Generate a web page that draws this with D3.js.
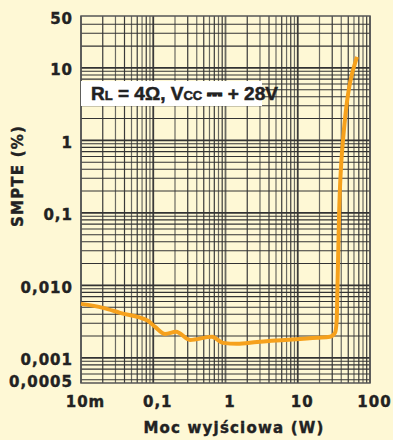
<!DOCTYPE html>
<html>
<head>
<meta charset="utf-8">
<script src="https://cdn.jsdelivr.net/npm/d3@7"></script>
<style>
  body { margin: 0; background: #fef8d5; }
  svg { display: block; }
</style>
</head>
<body>
<svg id="chart"></svg>
<script>
// data
var xTicks = [0.01, 0.1, 1, 10, 100];
var xTickLabels = ["10m", "0,1", "1", "10", "100"];
var yTicks = [50, 10, 1, 0.1, 0.01, 0.001, 0.0005];
var yTickLabels = ["50", "10", "1", "0,1", "0,010", "0,001", "0,0005"];

var power = [0.01, 0.0202, 0.0347, 0.0845, 0.106, 0.146, 0.207, 0.323, 0.65, 0.923, 1.44, 2.73, 18.5, 27.9, 32.8, 34.6, 35.4, 37.4, 42.3, 66];
var smpte = [0.00556, 0.0049, 0.00418, 0.00324, 0.00268, 0.00214, 0.00229, 0.00177, 0.00195, 0.00161, 0.00156, 0.00166, 0.00189, 0.00195, 0.00222, 0.0033, 0.0087, 0.1, 1.0, 14.2];

var width = 393, height = 440;
var margin = {top: 16, right: 23, bottom: 57, left: 81};

var svg = d3.select("#chart")
    .attr("width", width)
    .attr("height", height);

svg.append("rect")
    .attr("width", width)
    .attr("height", height)
    .attr("fill", "#fef8d5");

var xScale = d3.scaleLog()
    .domain([0.01, 100])
    .range([margin.left, width - margin.right]);

var yScale = d3.scaleLog()
    .domain([0.00045, 52])
    .range([height - margin.bottom, margin.top]);

// log grid: 1..9 in each decade
var xGrid = [], yGrid = [];
for (var e = -2; e < 2; e++) {
    for (var k = 1; k < 10; k++) xGrid.push(k * Math.pow(10, e));
}
xGrid.push(100);
for (var e = -4; e < 2; e++) {
    for (var k = 1; k < 10; k++) {
        var v = k * Math.pow(10, e);
        if (v >= 0.0005 && v < 50) yGrid.push(+v.toPrecision(3));
    }
}
function isDecade(v) {
    return Math.abs(Math.log10(v) - Math.round(Math.log10(v))) < 1e-6;
}

var grid = svg.append("g").attr("class", "grid");

grid.selectAll(".vline")
    .data(xGrid)
    .enter().append("line")
    .attr("class", "vline")
    .attr("x1", function (d) { return xScale(d); })
    .attr("x2", function (d) { return xScale(d); })
    .attr("y1", margin.top)
    .attr("y2", height - margin.bottom)
    .attr("stroke", function (d, i) { return i % 2 ? "#3a3a3a" : "#6a6a62"; })
    .attr("stroke-width", function (d) { return isDecade(d) ? 1.8 : 1.2; });

grid.selectAll(".hline")
    .data(yGrid)
    .enter().append("line")
    .attr("class", "hline")
    .attr("x1", margin.left)
    .attr("x2", width - margin.right)
    .attr("y1", function (d) { return yScale(d); })
    .attr("y2", function (d) { return yScale(d); })
    .attr("stroke", "#333")
    .attr("stroke-width", function (d) { return isDecade(d) ? 1.8 : 1.1; });

svg.append("rect")
    .attr("x", margin.left)
    .attr("y", margin.top)
    .attr("width", width - margin.left - margin.right)
    .attr("height", height - margin.top - margin.bottom)
    .attr("fill", "none")
    .attr("stroke", "#555")
    .attr("stroke-width", 1.5);

// annotation box
svg.append("rect")
    .attr("x", margin.left)
    .attr("y", 81)
    .attr("width", 181)
    .attr("height", 25)
    .attr("fill", "#fff");

var note = svg.append("text")
    .attr("x", 91)
    .attr("y", 100)
    .attr("font-family", "'Liberation Sans', Arial, sans-serif")
    .attr("font-weight", "bold")
    .attr("font-size", "19px")
    .attr("fill", "#222")
    .attr("stroke", "#222")
    .attr("stroke-width", 0.5);
note.append("tspan").text("R");
note.append("tspan").attr("font-size", "13px").text("L");
note.append("tspan").text(" = 4\u03A9, V");
note.append("tspan").attr("font-size", "13px").text("CC");
note.append("tspan").text(" \u2393 + 28V");

// curve
var line = d3.line()
    .x(function (d) { return xScale(d[0]); })
    .y(function (d) { return yScale(d[1]); })
    .curve(d3.curveMonotoneX);

svg.append("path")
    .datum(d3.zip(power, smpte))
    .attr("d", line)
    .attr("fill", "none")
    .attr("stroke", "#f6a11c")
    .attr("stroke-width", 4)
    .attr("stroke-linejoin", "round");

// axes
var yAxis = d3.axisLeft(yScale)
    .tickValues(yTicks)
    .tickFormat(function (d, i) { return yTickLabels[i]; })
    .tickSize(0)
    .tickPadding(8);

var gy = svg.append("g")
    .attr("transform", "translate(" + margin.left + ",0)")
    .call(yAxis);
gy.select(".domain").remove();
gy.selectAll("text")
    .attr("font-family", "'DejaVu Sans', sans-serif")
    .attr("font-weight", "bold")
    .attr("font-size", "15px")
    .attr("letter-spacing", "1px")
    .attr("dy", "0.45em")
    .attr("fill", "#222")
    .attr("stroke", "#222")
    .attr("stroke-width", 0.4);

var xAxis = d3.axisBottom(xScale)
    .tickValues(xTicks)
    .tickFormat(function (d, i) { return xTickLabels[i]; })
    .tickSize(0)
    .tickPadding(13);

var gx = svg.append("g")
    .attr("transform", "translate(0," + (height - margin.bottom) + ")")
    .call(xAxis);
gx.select(".domain").remove();
gx.selectAll("text")
    .attr("font-family", "'DejaVu Sans', sans-serif")
    .attr("font-weight", "bold")
    .attr("font-size", "15px")
    .attr("letter-spacing", "1px")
    .attr("dx", "4")
    .attr("fill", "#222")
    .attr("stroke", "#222")
    .attr("stroke-width", 0.4);

svg.append("text")
    .attr("x", 234)
    .attr("y", 433)
    .attr("text-anchor", "middle")
    .attr("font-family", "'DejaVu Sans', sans-serif")
    .attr("font-weight", "bold")
    .attr("font-size", "15px")
    .attr("letter-spacing", "1.2px")
    .attr("fill", "#222")
    .attr("stroke", "#222")
    .attr("stroke-width", 0.4)
    .text("Moc wyjściowa (W)");

svg.append("text")
    .attr("transform", "translate(23,176)rotate(-90)")
    .attr("text-anchor", "middle")
    .attr("font-family", "'DejaVu Sans', sans-serif")
    .attr("font-weight", "bold")
    .attr("font-size", "15px")
    .attr("letter-spacing", "1.2px")
    .attr("fill", "#222")
    .attr("stroke", "#222")
    .attr("stroke-width", 0.4)
    .text("SMPTE (%)");
</script>
</body>
</html>
